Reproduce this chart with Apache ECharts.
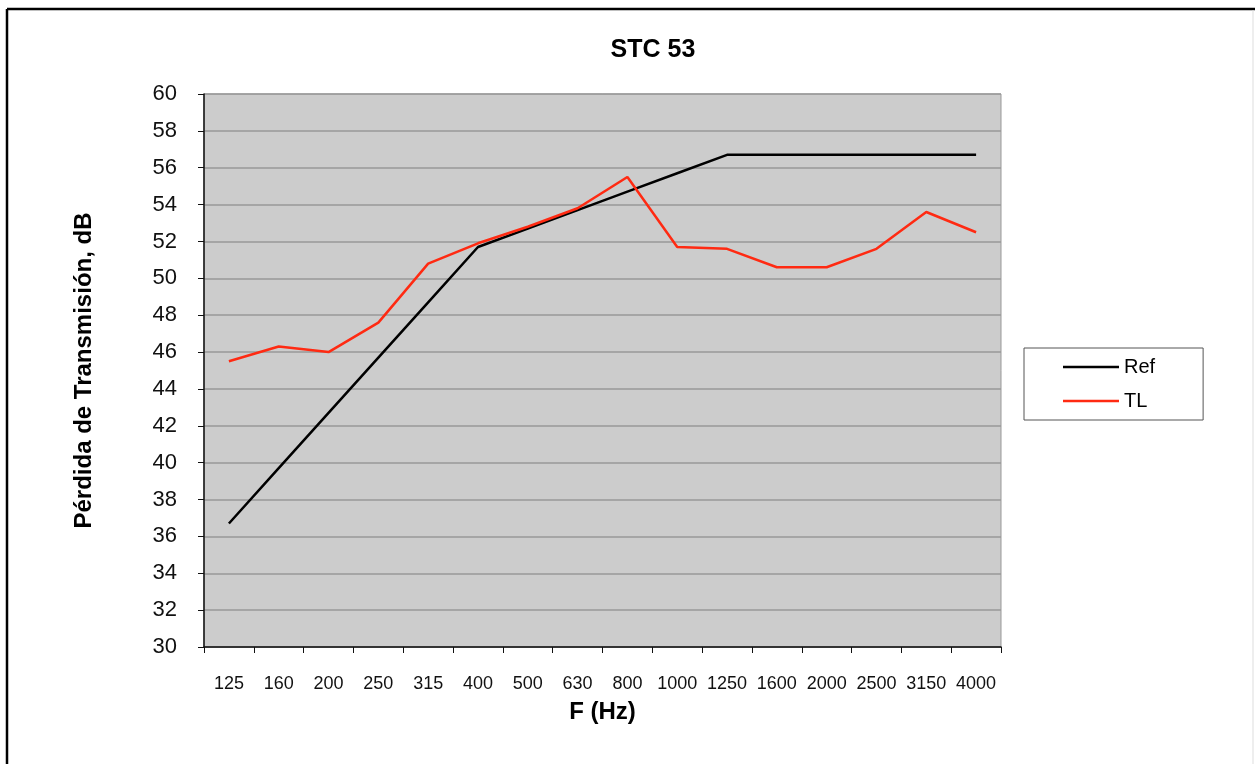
<!DOCTYPE html>
<html>
<head>
<meta charset="utf-8">
<script src="https://cdn.jsdelivr.net/npm/echarts@6/dist/echarts.min.js"></script>
<style>
html,body{margin:0;padding:0;background:#fff;}
#chart{width:1255px;height:764px;}
</style>
</head>
<body>
<div id="chart"></div>
<script>
const categories = ['125','160','200','250','315','400','500','630','800','1000','1250','1600','2000','2500','3150','4000'];
const refValues = [36.7, 39.7, 42.7, 45.7, 48.7, 51.7, 52.7, 53.7, 54.7, 55.7, 56.7, 56.7, 56.7, 56.7, 56.7, 56.7];
const tlValues  = [45.5, 46.3, 46.0, 47.6, 50.8, 51.9, 52.8, 53.8, 55.5, 51.7, 51.6, 50.6, 50.6, 51.6, 53.6, 52.5];
const yTicks = {min: 30, max: 60, interval: 2};

const chart = echarts.init(document.getElementById('chart'), null, {renderer: 'canvas'});
const fontFam = 'Liberation Sans, Arial, sans-serif';
chart.setOption({
  animation: false,
  backgroundColor: '#ffffff',
  title: {
    text: 'STC 53',
    left: 648, top: 33,
    textAlign: 'center',
    textStyle: {fontFamily: fontFam, fontSize: 25, fontWeight: 'bold', color: '#000'}
  },
  graphic: [
    {type: 'line', shape: {x1: 7, y1: 9, x2: 1255, y2: 9}, style: {stroke: '#000', lineWidth: 2.5}},
    {type: 'line', shape: {x1: 7, y1: 9, x2: 7, y2: 764}, style: {stroke: '#000', lineWidth: 2.5}},
    {type: 'line', shape: {x1: 1253, y1: 10, x2: 1253, y2: 764}, style: {stroke: '#dddddd', lineWidth: 1}}
  ],
  legend: {
    orient: 'vertical',
    left: 1024, top: 348,
    padding: [9, 48, 9, 39],
    icon: 'rect',
    itemWidth: 56, itemHeight: 2.5, itemGap: 14,
    borderColor: '#555', borderWidth: 1, borderRadius: 0,
    backgroundColor: '#fff',
    textStyle: {fontFamily: fontFam, fontSize: 20, color: '#000', lineHeight: 20},
    data: ['Ref', 'TL']
  },
  grid: {
    left: 204, right: 254, top: 94, bottom: 117,
    show: true, backgroundColor: '#cccccc', borderColor: '#999999', borderWidth: 1
  },
  xAxis: {
    type: 'category',
    data: categories,
    boundaryGap: true,
    name: 'F (Hz)',
    nameLocation: 'middle',
    nameGap: 53,
    nameTextStyle: {fontFamily: fontFam, fontSize: 24, fontWeight: 'bold', color: '#000'},
    axisLine: {lineStyle: {color: '#111', width: 1.5}},
    axisTick: {show: true, length: 6, lineStyle: {color: '#111'}},
    axisLabel: {fontFamily: fontFam, fontSize: 18, color: '#111', margin: 28, interval: 0},
    splitLine: {show: false}
  },
  yAxis: {
    type: 'value',
    min: yTicks.min, max: yTicks.max, interval: yTicks.interval,
    name: 'Pérdida de Transmisión, dB',
    nameLocation: 'middle',
    nameGap: 108,
    nameRotate: 90,
    nameTextStyle: {fontFamily: fontFam, fontSize: 24, fontWeight: 'bold', color: '#000'},
    axisLine: {show: true, lineStyle: {color: '#111', width: 1.5}},
    axisTick: {show: true, length: 6, lineStyle: {color: '#111'}},
    axisLabel: {fontFamily: fontFam, fontSize: 22, color: '#111', margin: 27},
    splitLine: {show: true, lineStyle: {color: '#999999', width: 1.5}}
  },
  series: [
    {name: 'Ref', type: 'line', data: refValues, symbol: 'none', lineStyle: {color: '#000', width: 2.5}, itemStyle: {color: '#000'}},
    {name: 'TL', type: 'line', data: tlValues, symbol: 'none', lineStyle: {color: '#ff2a12', width: 2.5}, itemStyle: {color: '#ff2a12'}}
  ]
});
</script>
</body>
</html>
